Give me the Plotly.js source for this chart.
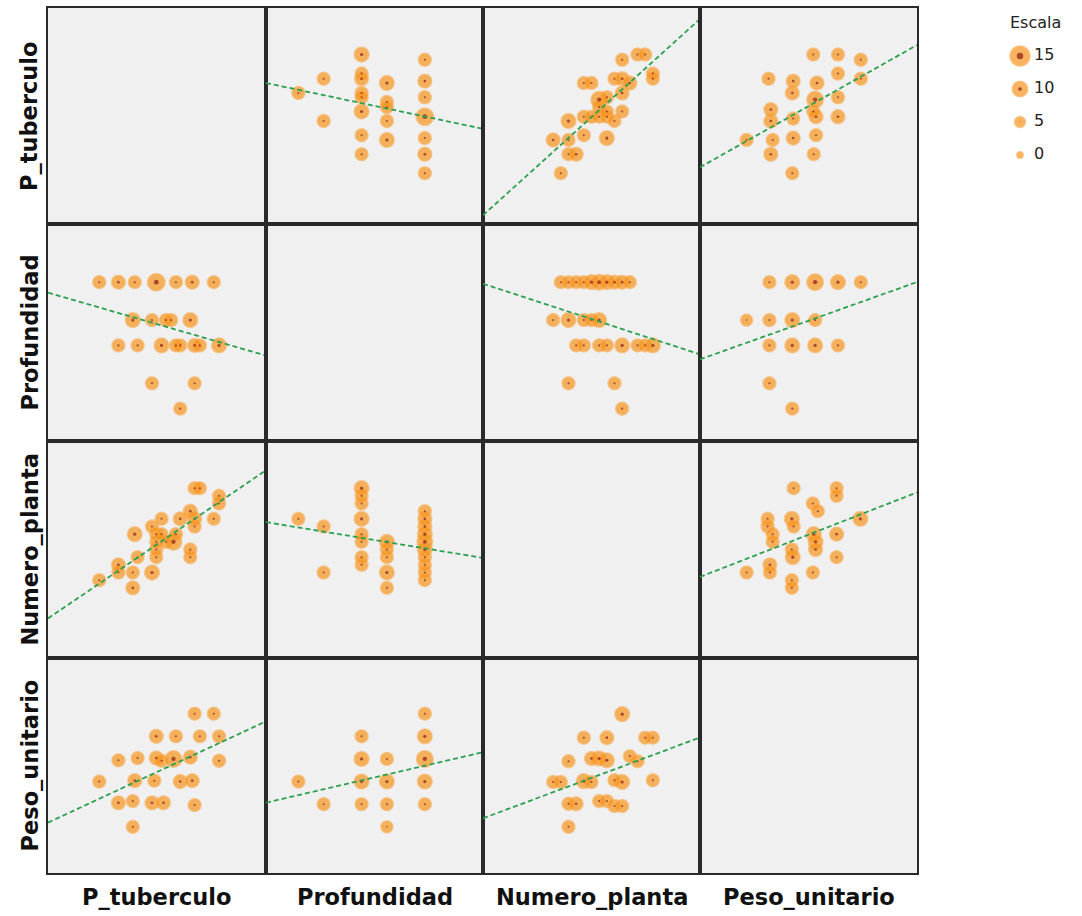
<!DOCTYPE html>
<html><head><meta charset="utf-8">
<script src="https://cdn.plot.ly/plotly-3.0.1.min.js"></script>
<style>html,body{margin:0;padding:0;background:#fff}#chart{width:1082px;height:916px}</style>
</head><body><div id="chart"></div>
<script>
// ---- variables ----
const variables = ['P_tuberculo', 'Profundidad', 'Numero_planta', 'Peso_unitario'];
const axisRanges = [[-0.7, 44.8], [7.44, 24.6], [5.85, 34.15], [9.8, 57.3]];

// ---- pair P_tuberculo / Profundidad ----
const pp_Prof = [10, 12, 12, 15, 15, 15, 15, 15, 15, 15, 15, 17, 17, 17, 17, 17, 20, 20, 20, 20, 20, 20, 20];
const pp_P = [26.9, 29.9, 21.0, 35.0, 31.0, 29.9, 26.9, 26.0, 23.0, 18.0, 14.0, 29.0, 25.0, 23.9, 21.0, 17.0, 33.9, 29.4, 26.0, 21.9, 17.4, 14.0, 10.0];
const pp_esc = [7, 7, 7, 9, 7, 8, 7, 7, 9, 7, 7, 9, 7, 7, 7, 9, 7, 8, 7, 12, 7, 8, 7];

// ---- pair P_tuberculo / Numero_planta ----
const pn_Np = [15, 16, 17, 17, 17, 18, 19, 19, 19, 20, 20, 21, 21, 21, 22, 22, 22, 22, 23, 23, 24, 24, 24, 24, 25, 26, 27, 28, 28];
const pn_P = [17.0, 10.0, 14.0, 17.0, 21.0, 14.0, 18.0, 21.9, 29.0, 21.9, 29.0, 21.9, 23.9, 25.5, 17.4, 21.9, 23.0, 26.0, 21.0, 29.9, 23.0, 26.9, 29.9, 33.9, 29.0, 35.0, 35.0, 29.9, 31.0];
const pn_esc = [8, 7, 7, 7, 9, 8, 7, 7, 7, 7, 7, 7, 7, 11, 9, 7, 7, 7, 7, 7, 7, 8, 8, 7, 8, 7, 7, 7, 7];

// ---- pair P_tuberculo / Peso_unitario ----
const pw_P = [29.9, 33.9, 21.9, 26.0, 31.0, 35.0, 14.0, 18.0, 21.9, 23.0, 25.5, 29.0, 35.0, 10.0, 17.4, 21.5, 26.9, 29.4, 14.0, 17.0, 21.0, 23.4, 29.9, 17.0];
const pw_Peso = [45, 45, 40, 40, 40, 40, 34.7, 35.2, 35.2, 34.6, 35.0, 35.4, 34.6, 30, 30.2, 30.2, 30, 30.2, 25.3, 25.7, 25.3, 25.3, 24.8, 20];
const pw_esc = [7, 7, 8, 7, 7, 7, 7, 7, 8, 7, 11, 8, 7, 7, 8, 7, 8, 8, 8, 7, 8, 8, 7, 7];

// ---- pair Profundidad / Numero_planta ----
const rn_Prof = [20, 20, 20, 20, 20, 20, 20, 20, 20, 20, 17, 17, 17, 17, 17, 15, 15, 15, 15, 15, 15, 15, 15, 12, 12, 10];
const rn_Np = [16, 17, 18, 19, 20, 21, 22, 23, 24, 25, 15, 17, 19, 20, 21, 18, 19, 21, 22, 24, 26, 27, 28, 17, 23, 24];
const rn_esc = [7, 7, 7, 7, 9, 10, 9, 8, 8, 7, 7, 9, 7, 7, 9, 7, 7, 7, 7, 9, 7, 7, 9, 7, 7, 7];

// ---- pair Profundidad / Peso_unitario ----
const rw_Prof = [20, 20, 20, 20, 20, 17, 17, 17, 17, 15, 15, 15, 15, 12, 10];
const rw_Peso = [25, 30, 35, 40, 45, 20, 25, 30, 35, 25, 30, 35, 40, 25, 30];
const rw_esc = [7, 9, 11, 9, 7, 6, 7, 9, 7, 7, 9, 9, 7, 7, 7];

// ---- pair Numero_planta / Peso_unitario ----
const nw_Np = [28, 28, 27, 26, 25, 24, 24, 24, 23, 23, 22, 21, 22, 22, 21, 20, 20, 19, 19, 18, 17, 17, 17, 16, 15];
const nw_Peso = [30.3, 39.7, 39.7, 34.5, 35.6, 24.6, 29.9, 44.9, 24.6, 30.3, 25.7, 25.7, 34.7, 39.7, 35.1, 29.9, 35.1, 30.1, 39.7, 25.1, 25.1, 20, 34.5, 29.9, 29.9];
const nw_esc = [7, 7, 7, 7, 7, 7, 9, 9, 7, 7, 7, 7, 9, 8, 9, 7, 8, 9, 7, 8, 7, 7, 7, 7, 7];

// ---- legend ----
const legendValues = [15, 10, 5, 0];
const legendTitle = 'Escala';

// ---- build ----
const pairs = [
  {a: 0, b: 1, va: pp_P, vb: pp_Prof, esc: pp_esc},
  {a: 0, b: 2, va: pn_P, vb: pn_Np, esc: pn_esc},
  {a: 0, b: 3, va: pw_P, vb: pw_Peso, esc: pw_esc},
  {a: 1, b: 2, va: rn_Prof, vb: rn_Np, esc: rn_esc},
  {a: 1, b: 3, va: rw_Prof, vb: rw_Peso, esc: rw_esc},
  {a: 2, b: 3, va: nw_Np, vb: nw_Peso, esc: nw_esc}
];
function getValues(r, c) {
  for (const p of pairs) {
    if (p.a === r && p.b === c) return {x: p.vb, y: p.va, esc: p.esc};
    if (p.a === c && p.b === r) return {x: p.va, y: p.vb, esc: p.esc};
  }
  return null;
}
function ols(x, y) {
  const n = x.length;
  let mx = 0, my = 0;
  for (let i = 0; i < n; i++) { mx += x[i]; my += y[i]; }
  mx /= n; my /= n;
  let sxy = 0, sxx = 0;
  for (let i = 0; i < n; i++) { sxy += (x[i] - mx) * (y[i] - my); sxx += (x[i] - mx) ** 2; }
  const b = sxy / sxx;
  return {b: b, a: my - b * mx};
}
const markerSize = e => 7 + 0.9 * e;
const dotSize = e => Math.max(0, 0.55 * e - 1.8);
const ORANGE = 'rgb(247,148,29)';
const ORANGE_EDGE = 'rgba(249,175,90,0.75)';
const DARK = 'rgb(140,25,20)';
const GREEN = 'rgb(44,160,80)';

const W = 1082, H = 916;
const colEdges = [48, 266, 483, 700, 917];
const rowEdges = [8, 224, 441, 658, 873];
const LABEL_FONT = {family: 'DejaVu Sans', size: 22.5, color: '#111111', weight: 'bold'};

const data = [];
const layout = {
  width: W, height: H, margin: {l: 0, r: 0, t: 0, b: 0},
  paper_bgcolor: '#ffffff', plot_bgcolor: 'rgba(0,0,0,0)',
  showlegend: false, shapes: [], annotations: []
};

for (let r = 0; r < 4; r++) {
  for (let c = 0; c < 4; c++) {
    const n = r * 4 + c + 1;
    const s = n === 1 ? '' : String(n);
    layout['xaxis' + s] = {
      domain: [colEdges[c] / W, colEdges[c + 1] / W], range: axisRanges[c], anchor: 'y' + s,
      showgrid: false, zeroline: false, showticklabels: false, ticks: '',
      showline: true, mirror: true, linecolor: '#2a2a2a', linewidth: 2, fixedrange: true
    };
    layout['yaxis' + s] = {
      domain: [1 - rowEdges[r + 1] / H, 1 - rowEdges[r] / H], range: axisRanges[r], anchor: 'x' + s,
      showgrid: false, zeroline: false, showticklabels: false, ticks: '',
      showline: true, mirror: true, linecolor: '#2a2a2a', linewidth: 2, fixedrange: true
    };
    layout.shapes.push({
      type: 'rect', xref: 'x' + s + ' domain', yref: 'y' + s + ' domain',
      x0: 0, x1: 1, y0: 0, y1: 1, fillcolor: '#f0f0f0', line: {width: 0}, layer: 'below'
    });
    const v = getValues(r, c);
    if (!v) {
      data.push({type: 'scatter', x: [], y: [], xaxis: 'x' + s, yaxis: 'y' + s, hoverinfo: 'skip'});
      continue;
    }
    data.push({
      type: 'scatter', mode: 'markers', x: v.x, y: v.y, xaxis: 'x' + s, yaxis: 'y' + s,
      marker: {size: v.esc.map(markerSize), color: ORANGE, line: {width: 1.2, color: ORANGE_EDGE}},
      hoverinfo: 'skip'
    });
    data.push({
      type: 'scatter', mode: 'markers', x: v.x, y: v.y, xaxis: 'x' + s, yaxis: 'y' + s,
      marker: {size: v.esc.map(dotSize), color: DARK, line: {width: 0}},
      hoverinfo: 'skip'
    });
    const f = ols(v.x, v.y);
    const xr = axisRanges[c];
    data.push({
      type: 'scatter', mode: 'lines', x: [xr[0], xr[1]], y: [f.a + f.b * xr[0], f.a + f.b * xr[1]],
      xaxis: 'x' + s, yaxis: 'y' + s,
      line: {color: GREEN, width: 1.8, dash: '5px,3px'}, hoverinfo: 'skip'
    });
  }
}

// variable labels
for (let i = 0; i < 4; i++) {
  layout.annotations.push({
    text: variables[i], xref: 'paper', yref: 'paper',
    x: (colEdges[i] + colEdges[i + 1]) / 2 / W, y: 1 - 897 / H,
    xanchor: 'center', yanchor: 'middle', showarrow: false, font: LABEL_FONT
  });
  layout.annotations.push({
    text: variables[i], xref: 'paper', yref: 'paper',
    x: 29 / W, y: 1 - (rowEdges[i] + rowEdges[i + 1]) / 2 / H,
    xanchor: 'center', yanchor: 'middle', textangle: -90, showarrow: false, font: LABEL_FONT
  });
}

// legend (size scale)
layout.xaxis17 = {domain: [1000 / W, 1080 / W], range: [0, 80], anchor: 'y17', visible: false, fixedrange: true};
layout.yaxis17 = {domain: [1 - 172 / H, 1 - 40 / H], range: [3.515, -0.485], anchor: 'x17', visible: false, fixedrange: true};
const legIdx = legendValues.map((_, i) => i);
data.push({
  type: 'scatter', mode: 'markers', x: legendValues.map(() => 20), y: legIdx, xaxis: 'x17', yaxis: 'y17',
  marker: {size: legendValues.map(markerSize), color: ORANGE, line: {width: 1.2, color: ORANGE_EDGE}}, hoverinfo: 'skip'
});
data.push({
  type: 'scatter', mode: 'markers', x: legendValues.map(() => 20), y: legIdx, xaxis: 'x17', yaxis: 'y17',
  marker: {size: legendValues.map(dotSize), color: DARK, line: {width: 0}}, hoverinfo: 'skip'
});
data.push({
  type: 'scatter', mode: 'text', x: legendValues.map(() => 34), y: legIdx, xaxis: 'x17', yaxis: 'y17',
  text: legendValues.map(String), textposition: 'middle right',
  textfont: {family: 'DejaVu Sans', size: 16, color: '#222'}, hoverinfo: 'skip', cliponaxis: false
});
layout.annotations.push({
  text: legendTitle, xref: 'paper', yref: 'paper', x: 1035 / W, y: 1 - 22 / H,
  xanchor: 'center', yanchor: 'middle', showarrow: false,
  font: {family: 'DejaVu Sans', size: 16, color: '#222'}
});

Plotly.newPlot('chart', data, layout, {staticPlot: true, displayModeBar: false});
</script>
</body></html>
